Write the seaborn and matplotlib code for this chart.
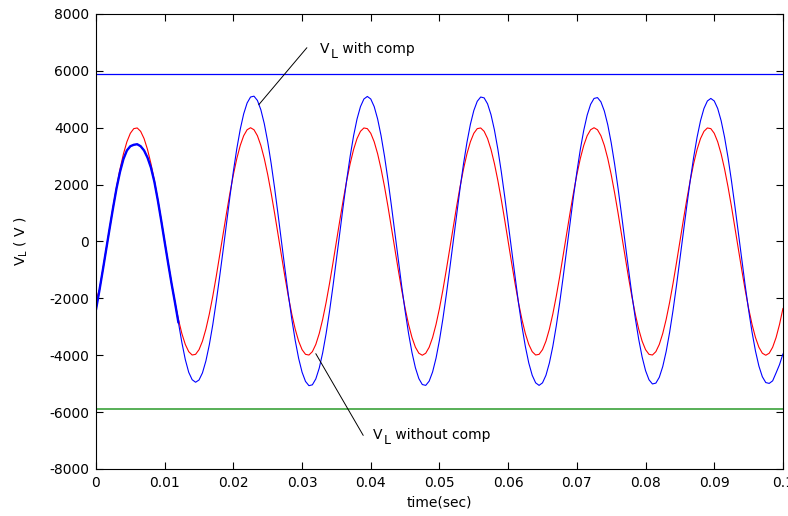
import numpy as np
import pandas as pd
import matplotlib
matplotlib.use("Agg")
import matplotlib.pyplot as plt
import seaborn as sns

# load voltage, one sample every 0.5 ms from t = 0
sample_step = 0.0005

v_without_comp = [
    -2050, -1703, -995, -251, 501, 1236, 1927, 2550, 3082, 3505,
    3804, 3968, 3992, 3874, 3619, 3236, 2738, 2143, 1472, 750,
    0, -750, -1472, -2143, -2738, -3236, -3619, -3874, -3992, -3968,
    -3804, -3505, -3082, -2550, -1927, -1236, -501, 251, 995, 1703,
    2351, 2916, 3377, 3719, 3929, 4000, 3929, 3719, 3377, 2916,
    2351, 1703, 995, 251, -501, -1236, -1927, -2550, -3082, -3505,
    -3804, -3968, -3992, -3874, -3619, -3236, -2738, -2143, -1472, -750,
    0, 750, 1472, 2143, 2738, 3236, 3619, 3874, 3992, 3968,
    3804, 3505, 3082, 2550, 1927, 1236, 501, -251, -995, -1703,
    -2351, -2916, -3377, -3719, -3929, -4000, -3929, -3719, -3377, -2916,
    -2351, -1703, -995, -251, 501, 1236, 1927, 2550, 3082, 3505,
    3804, 3968, 3992, 3874, 3619, 3236, 2738, 2143, 1472, 750,
    0, -750, -1472, -2143, -2738, -3236, -3619, -3874, -3992, -3968,
    -3804, -3505, -3082, -2550, -1927, -1236, -501, 251, 995, 1703,
    2351, 2916, 3377, 3719, 3929, 4000, 3929, 3719, 3377, 2916,
    2351, 1703, 995, 251, -501, -1236, -1927, -2550, -3082, -3505,
    -3804, -3968, -3992, -3874, -3619, -3236, -2738, -2143, -1472, -750,
    0, 750, 1472, 2143, 2738, 3236, 3619, 3874, 3992, 3968,
    3804, 3505, 3082, 2550, 1927, 1236, 501, -251, -995, -1703,
    -2351, -2916, -3377, -3719, -3929, -4000, -3929, -3719, -3377, -2916,
    -2351,
]

v_with_comp = [
    -2400, -1720, -1000, -260, 480, 1200, 1880, 2450, 2900, 3200,
    3350, 3400, 3420, 3350, 3200, 2950, 2600, 2100, 1450, 730,
    -20, -760, -1480, -2150, -2850, -3550, -4150, -4600, -4860, -4950,
    -4870, -4620, -4200, -3630, -2930, -2120, -1240, -320, 642, 1582,
    2467, 3263, 3945, 4487, 4870, 5080, 5110, 4959, 4633, 4142,
    3505, 2743, 1885, 959, 0, -952, -1870, -2722, -3477, -4110,
    -4596, -4920, -5070, -5040, -4832, -4452, -3914, -3238, -2448, -1570,
    -637, 320, 1268, 2172, 2998, 3718, 4306, 4742, 5010, 5100,
    5010, 4742, 4306, 3718, 2998, 2172, 1268, 320, -635, -1567,
    -2443, -3232, -3906, -4443, -4822, -5030, -5060, -4911, -4587, -4102,
    -3470, -2717, -1866, -950, 0, 954, 1874, 2727, 3484, 4118,
    4605, 4930, 5080, 5050, 4841, 4460, 3922, 3244, 2452, 1573,
    638, -318, -1258, -2155, -2974, -3689, -4272, -4705, -4970, -5060,
    -4970, -4705, -4272, -3689, -2974, -2155, -1258, -318, 635, 1567,
    2443, 3232, 3906, 4443, 4822, 5030, 5060, 4911, 4587, 4102,
    3470, 2717, 1866, 950, 0, -941, -1848, -2690, -3436, -4061,
    -4542, -4862, -5010, -4980, -4775, -4399, -3868, -3200, -2419, -1551,
    -629, 316, 1251, 2142, 2957, 3667, 4247, 4677, 4941, 5030,
    4941, 4677, 4247, 3667, 2957, 2142, 1251, 316, -627, -1545,
    -2409, -3187, -3853, -4382, -4756, -4961, -4990, -4900, -4620, -4330,
    -3950,
]

# limit lines
upper_limit = 5900
lower_limit = -5900

x_ticks = [0, 0.01, 0.02, 0.03, 0.04, 0.05, 0.06, 0.07, 0.08, 0.09, 0.1]
x_tick_labels = ["0", "0.01", "0.02", "0.03", "0.04", "0.05", "0.06", "0.07", "0.08", "0.09", "0.1"]
y_ticks = [-8000, -6000, -4000, -2000, 0, 2000, 4000, 6000, 8000]
y_tick_labels = ["-8000", "-6000", "-4000", "-2000", "0", "2000", "4000", "6000", "8000"]

sns.set_style("ticks")
plt.rcParams["font.family"] = ["DejaVu Sans"]
plt.rcParams["mathtext.default"] = "regular"
plt.rcParams["axes.edgecolor"] = "black"
plt.rcParams["xtick.color"] = "black"
plt.rcParams["ytick.color"] = "black"
plt.rcParams["text.color"] = "black"
plt.rcParams["axes.labelcolor"] = "black"

t = np.arange(len(v_with_comp)) * sample_step
df = pd.DataFrame({"time": t, "without": v_without_comp, "with": v_with_comp})

fig = plt.figure(figsize=(7.88, 5.16), dpi=100)
ax = fig.add_axes([0.1218, 0.0911, 0.8718, 0.8818])

sns.lineplot(data=df, x="time", y="without", color="#ff0000", lw=0.8, ax=ax)
sns.lineplot(data=df, x="time", y="with", color="#0000ff", lw=0.8, ax=ax)
# first cycle of the compensated trace is noisy -> looks thicker
sns.lineplot(data=df[df.time <= 0.012], x="time", y="with", color="#0000ff", lw=1.7, ax=ax)

ax.axhline(upper_limit, color="#0000ff", lw=0.9)
ax.axhline(lower_limit, color="#2a9a2a", lw=1.1)


def label_vl(x, y, rest):
    # V with a near full size L below it, then the rest of the label
    v = ax.text(x, y, "V", fontsize=10, ha="left", va="bottom")
    sub = ax.annotate("L", xy=(1, 0), xycoords=v, xytext=(1, -3.5),
                      textcoords="offset points", fontsize=9, ha="left", va="bottom")
    ax.annotate(rest, xy=(1, 0), xycoords=sub, xytext=(0, 3.5),
                textcoords="offset points", fontsize=10, ha="left", va="bottom")


# leader lines + labels
ax.plot([0.0307, 0.0237], [6814, 4810], color="black", lw=0.7)
label_vl(0.0326, 6520, " with comp")
ax.plot([0.0389, 0.0320], [-6818, -3945], color="black", lw=0.7)
label_vl(0.0403, -7050, " without comp")

ax.set_xlim(0, 0.1)
ax.set_ylim(-8000, 8000)
ax.set_xticks(x_ticks)
ax.set_xticklabels(x_tick_labels)
ax.set_yticks(y_ticks)
ax.set_yticklabels(y_tick_labels)
ax.tick_params(direction="in", top=True, right=True, length=5, width=0.8, labelsize=10, pad=5)
for s in ax.spines.values():
    s.set_linewidth(0.8)
    s.set_visible(True)

ax.set_xlabel("time(sec)", fontsize=10, labelpad=4)
ax.set_ylabel("V$_L$ ( V )", fontsize=10, labelpad=14)

fig.savefig("out.png", dpi=100)
